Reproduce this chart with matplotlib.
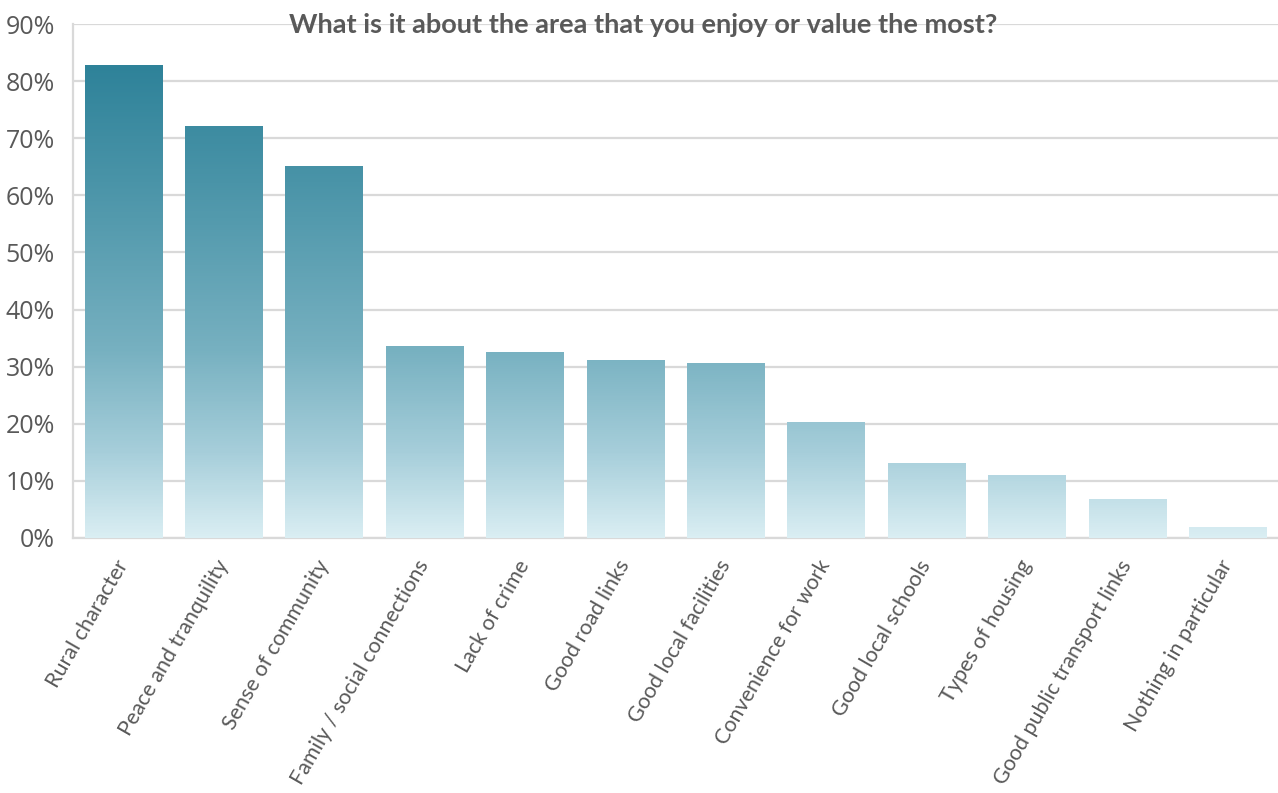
import numpy as np
import matplotlib
matplotlib.use("Agg")
import matplotlib.pyplot as plt
from matplotlib.colors import LinearSegmentedColormap
from matplotlib.ticker import PercentFormatter

categories = ["Rural character", "Peace and tranquility", "Sense of community",
              "Family / social connections", "Lack of crime", "Good road links",
              "Good local facilities", "Convenience for work", "Good local schools",
              "Types of housing", "Good public transport links", "Nothing in particular"]
values = [82.7, 72.0, 65.0, 33.5, 32.4, 31.0, 30.6, 20.3, 13.1, 11.0, 6.8, 1.9]

TITLE = "What is it about the area that you enjoy or value the most?"
TEXT = "#595959"
GRID = "#D9D9D9"

# light at the floor, dark teal near the tallest bar
cmap = LinearSegmentedColormap.from_list(
    "teal", [(0.0, "#DAEEF3"), (0.18, "#A6CEDA"), (0.40, "#76B0C0"),
             (0.75, "#4A94A8"), (1.0, "#2E8299")])
GRAD_TOP = 83.0

fig = plt.figure(figsize=(12.78, 7.93), dpi=100)
ax = fig.add_axes([0.0571, 0.3216, 0.9429, 0.6481])

width = 0.77
x = np.arange(len(categories))
for xi, v in zip(x, values):
    col = np.linspace(0, v, 400)[:, None]
    ax.imshow(col, cmap=cmap, vmin=0, vmax=GRAD_TOP, origin="lower",
              extent=(xi - width / 2, xi + width / 2, 0, v),
              aspect="auto", interpolation="nearest", zorder=3)

ax.set_xlim(-0.5, len(categories) - 0.5)
ax.set_ylim(0, 90)
ax.set_yticks(np.arange(0, 91, 10))
ax.yaxis.set_major_formatter(PercentFormatter(decimals=0))
ax.grid(axis="y", color=GRID, linewidth=1.6, zorder=0)
ax.set_axisbelow(True)

for s in ["top", "right"]:
    ax.spines[s].set_visible(False)
for s in ["left", "bottom"]:
    ax.spines[s].set_color(GRID)
    ax.spines[s].set_linewidth(1.6)

ax.tick_params(axis="both", length=0, colors=TEXT)
ax.tick_params(axis="y", labelsize=18, pad=13)
for lab in ax.get_yticklabels():
    lab.set_fontfamily("Open Sans")

ax.set_xticks(x)
ax.set_xticklabels(categories, rotation=60, ha="right", va="center",
                   rotation_mode="anchor", fontsize=15.5, family="Lato", color=TEXT)
ax.tick_params(axis="x", pad=17)

fig.text(0.503, 0.968, TITLE, ha="center", va="center", fontsize=19.5,
         fontweight="bold", family="Lato", color=TEXT)

fig.savefig("out.png", dpi=100)
